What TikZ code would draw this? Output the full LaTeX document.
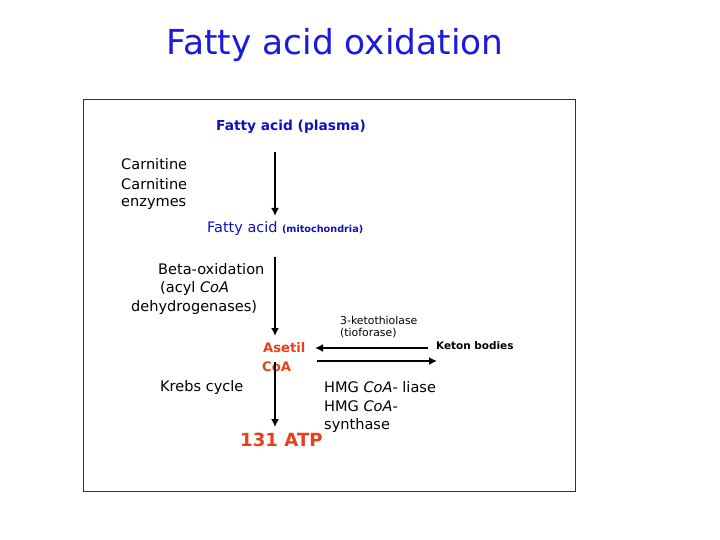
\documentclass[tikz,border=0pt]{standalone}
\usepackage{fontspec}
\setmainfont{DejaVu Sans}
\usetikzlibrary{arrows.meta}
\definecolor{tblue}{HTML}{1A1AE0}
\definecolor{dblue}{HTML}{1010C0}
\definecolor{tred}{HTML}{E8401A}
\tikzset{
  txt/.style={anchor=west,inner sep=0pt,font=\fontsize{14.6}{17}\selectfont},
  small/.style={anchor=west,inner sep=0pt,font=\fontsize{10.9}{12}\selectfont},
  arr/.style={line width=1.8bp,-{Latex[length=8bp,width=8bp]}},
}
\begin{document}
\begin{tikzpicture}[x=1bp,y=-1bp]
\useasboundingbox (0,0) rectangle (720,540);
\fill[white] (0,0) rectangle (720,540);
\draw[line width=1bp,black!80] (83,100) rectangle (575,491);
\node[anchor=center,inner sep=0pt,text=tblue,font=\fontsize{34.5}{38}\selectfont] (title) at (335,45) {Fatty acid oxidation};
\node[txt,text=dblue,font=\fontsize{13.8}{16}\selectfont\bfseries] (plasma) at (216,127) {Fatty acid (plasma)};
\node[txt] (c1) at (121,164) {Carnitine};
\node[txt] (c2) at (121,184) {Carnitine};
\node[txt] (c3) at (121,204) {enzymes};
\node[txt,text=dblue,font=\fontsize{14.5}{16}\selectfont] (mito) at (207,229) {Fatty acid \fontsize{9.7}{11}\selectfont\bfseries(mitochondria)};
\node[txt] (b1) at (158,269) {Beta-oxidation};
\node[txt] (b2) at (160,288) {(acyl \textit{CoA}};
\node[txt] (b3) at (131,307) {dehydrogenases)};
\node[small] (k1) at (340,320) {3-ketothiolase};
\node[small] (k2) at (340,333) {(tioforase)};
\node[txt,font=\fontsize{10.5}{12}\selectfont\bfseries] (keton) at (436,346) {Keton bodies};
\node[txt,text=tred,font=\fontsize{13.2}{15}\selectfont\bfseries] (as1) at (263,348) {Asetil};
\node[txt,text=tred,font=\fontsize{13.2}{15}\selectfont\bfseries] (as2) at (262,367) {CoA};
\node[txt] (krebs) at (160,387) {Krebs cycle};
\node[txt] (h1) at (324,387) {HMG \textit{CoA}- liase};
\node[txt] (h2) at (324,406) {HMG \textit{CoA}-};
\node[txt] (h3) at (324,425) {synthase};
\node[txt,text=tred,font=\fontsize{18.2}{21}\selectfont\bfseries] (atp) at (240,440) {131 ATP};
\coordinate (p1s) at (275,152);
\coordinate (p1e) at (275,216);
\coordinate (p2s) at (275,257);
\coordinate (p2e) at (275,336);
\coordinate (p3s) at (275,362);
\coordinate (p3e) at (275,427);
\coordinate (ls) at (428,348);
\coordinate (le) at (315,348);
\coordinate (rs) at (317,361);
\coordinate (re) at (437,361);
\draw[arr] (p1s) -- (p1e);
\draw[arr] (p2s) -- (p2e);
\draw[arr] (p3s) -- (p3e);
\draw[arr] (ls) -- (le);
\draw[arr] (rs) -- (re);
\end{tikzpicture}
\end{document}
